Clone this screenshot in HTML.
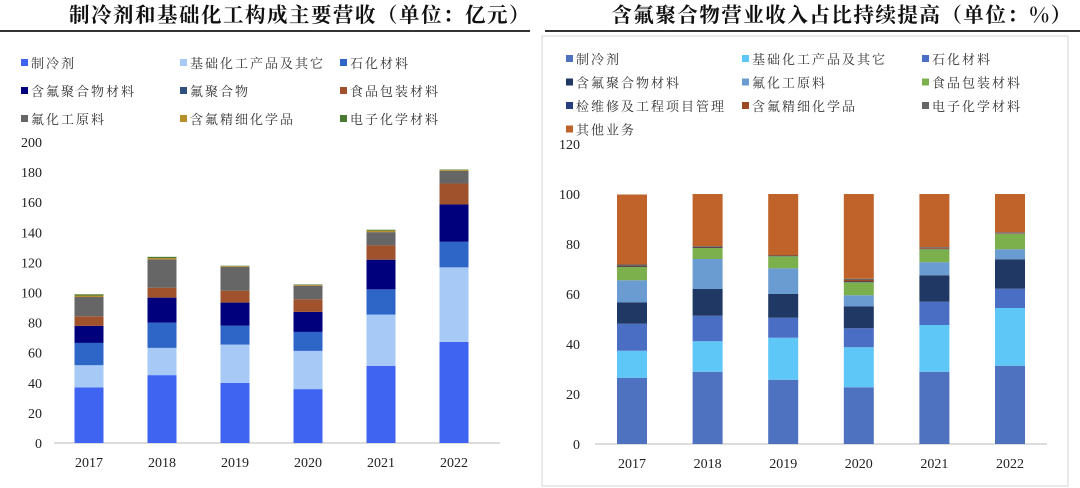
<!DOCTYPE html>
<html><head><meta charset="utf-8">
<style>
body{margin:0;width:1080px;height:488px;background:#fff;overflow:hidden;font-family:"Liberation Serif","Noto Serif CJK SC",serif;}
svg{display:block}
</style></head><body>
<svg id="svg" width="1080" height="488" xmlns="http://www.w3.org/2000/svg">
<text x="300" y="22" text-anchor="middle" font-family="Noto Serif CJK SC, serif" font-weight="bold" font-size="20.5" letter-spacing="1.5" fill="#111">制冷剂和基础化工构成主要营收（单位：亿元）</text>
<line x1="0" y1="31" x2="530" y2="31" stroke="#333" stroke-width="2"/>
<text x="842" y="22" text-anchor="middle" font-family="Noto Serif CJK SC, serif" font-weight="bold" font-size="20.5" letter-spacing="1.5" fill="#111">含氟聚合物营业收入占比持续提高（单位：%）</text>
<line x1="545" y1="31" x2="1080" y2="31" stroke="#333" stroke-width="2"/>
<rect x="542" y="36" width="526" height="450" fill="none" stroke="#ddd" stroke-width="1.2"/>
<g id="L"></g><g id="R"></g>
</svg>
<script>
const years=["2017","2018","2019","2020","2021","2022"];
// Left chart (亿元)
const leftNames=["制冷剂","基础化工产品及其它","石化材料","含氟聚合物材料","氟聚合物","食品包装材料","氟化工原料","含氟精细化学品","电子化学材料"];
const leftColors=["#3f64f2","#a6c9f6","#2e66c8","#00007c","#2f4f80","#a0522d","#666666","#b8902a","#4a7a30"];
const lRefrig=[37,45.1,40,35.8,51.3,67.2];
const lBasic=[14.7,18.1,25.4,25.4,34,49.5];
const lPetro=[14.8,16.8,12.6,12.6,16.8,17];
const lFluoroMat=[11.3,16.6,15.3,13.3,19.7,24.8];
const lFluoroPoly=[0,0,0,0,0,0];
const lFood=[6.4,6.6,7.9,8.4,9.5,13.9];
const lRaw=[12.8,18.8,15.9,9,8.8,8.4];
const lFine=[1,0.9,0.5,0.6,1,0.6];
const lElec=[0.8,0.8,0.2,0.3,0.6,0.3];
const leftSeries=[lRefrig,lBasic,lPetro,lFluoroMat,lFluoroPoly,lFood,lRaw,lFine,lElec];
const leftTicks=[0,20,40,60,80,100,120,140,160,180,200];
// Right chart (%)
const rightNames=["制冷剂","基础化工产品及其它","石化材料","含氟聚合物材料","氟化工原料","食品包装材料","检维修及工程项目管理","含氟精细化学品","电子化学材料","其他业务"];
const rightColors=["#4e72c0","#5fc7f7","#4a6ec4","#203864","#6a9bd1","#7cb04d","#263d80","#9e4a20","#666666","#c0632a"];
const rRefrig=[26.5,28.9,25.7,22.7,28.9,31.3];
const rBasic=[10.8,12.2,16.8,16,18.7,23.1];
const rPetro=[10.8,10.2,8,7.6,9.3,7.7];
const rFluoroMat=[8.6,10.7,9.5,8.7,10.6,11.8];
const rRaw=[8.8,12,10.3,4.5,5.2,4];
const rFood=[5.3,4.4,4.8,5.2,5.2,6.1];
const rRepair=[0.2,0.2,0.1,0.3,0.2,0.1];
const rFine=[0.2,0.3,0.2,0.6,0.4,0.2];
const rElec=[0.6,0.3,0.2,0.5,0.3,0.4];
const rOther=[28,20.8,24.4,33.9,21.2,15.3];
const rightSeries=[rRefrig,rBasic,rPetro,rFluoroMat,rRaw,rFood,rRepair,rFine,rElec,rOther];
const rightTicks=[0,20,40,60,80,100,120];

const NS="http://www.w3.org/2000/svg";
function mk(parent,tag,attrs,txt){const e=document.createElementNS(NS,tag);for(const k in attrs)e.setAttribute(k,attrs[k]);if(txt!==undefined)e.textContent=txt;parent.appendChild(e);return e;}

function drawChart(g,o){
  const y=v=>o.y0-(v-o.min)/(o.max-o.min)*(o.y0-o.yTop);
  const x=i=>o.x0+i*o.step;
  o.ticks.forEach(t=>{
    const tl=mk(g,"text",{x:o.tickX,y:y(t)+5,"text-anchor":"end","font-size":14,fill:"#222"},t);
    
    
  });
  const ax=mk(g,"line",{x1:o.axX1,x2:o.axX2,y1:o.y0,y2:o.y0,stroke:"#d0d0d0","stroke-width":1.5});
  
  
  years.forEach((yr,i)=>{
    let acc=0;
    o.series.forEach((s,si)=>{
      const v=s[i]; if(v<=0){return;}
      const r=mk(g,"rect",{x:x(i)-o.bw/2,y:y(acc+v),width:o.bw,height:y(acc)-y(acc+v),fill:o.colors[si]});
      
      
      acc+=v;
    });
    const l=mk(g,"text",{x:x(i),y:o.y0+24,"text-anchor":"middle","font-size":14,fill:"#222"},yr);
    
    
  });
  o.names.forEach((n,i)=>{
    const lx=o.legX[i%3], ly=o.legY+Math.floor(i/3)*o.legDy;
    const lg=mk(g,"g",{});
    
    
    mk(lg,"rect",{x:lx,y:ly-9,width:7,height:7,fill:o.colors[i]});
    mk(lg,"text",{x:lx+10,y:ly,"font-size":13,fill:"#333","letter-spacing":"2","font-family":"Noto Serif CJK SC, serif"},n);
  });
}
drawChart(document.getElementById("L"),{series:leftSeries,names:leftNames,colors:leftColors,ticks:leftTicks,min:0,max:200,y0:443,yTop:142,x0:89,step:73,bw:29,tickX:42,axX1:54,axX2:500,legX:[21,180,340],legY:68,legDy:28});
drawChart(document.getElementById("R"),{series:rightSeries,names:rightNames,colors:rightColors,ticks:rightTicks,min:0,max:120,y0:444,yTop:144,x0:632,step:75.6,bw:30,tickX:580,axX1:595,axX2:1047,legX:[566,742,922],legY:64,legDy:23.5});
</script>
</body></html>
